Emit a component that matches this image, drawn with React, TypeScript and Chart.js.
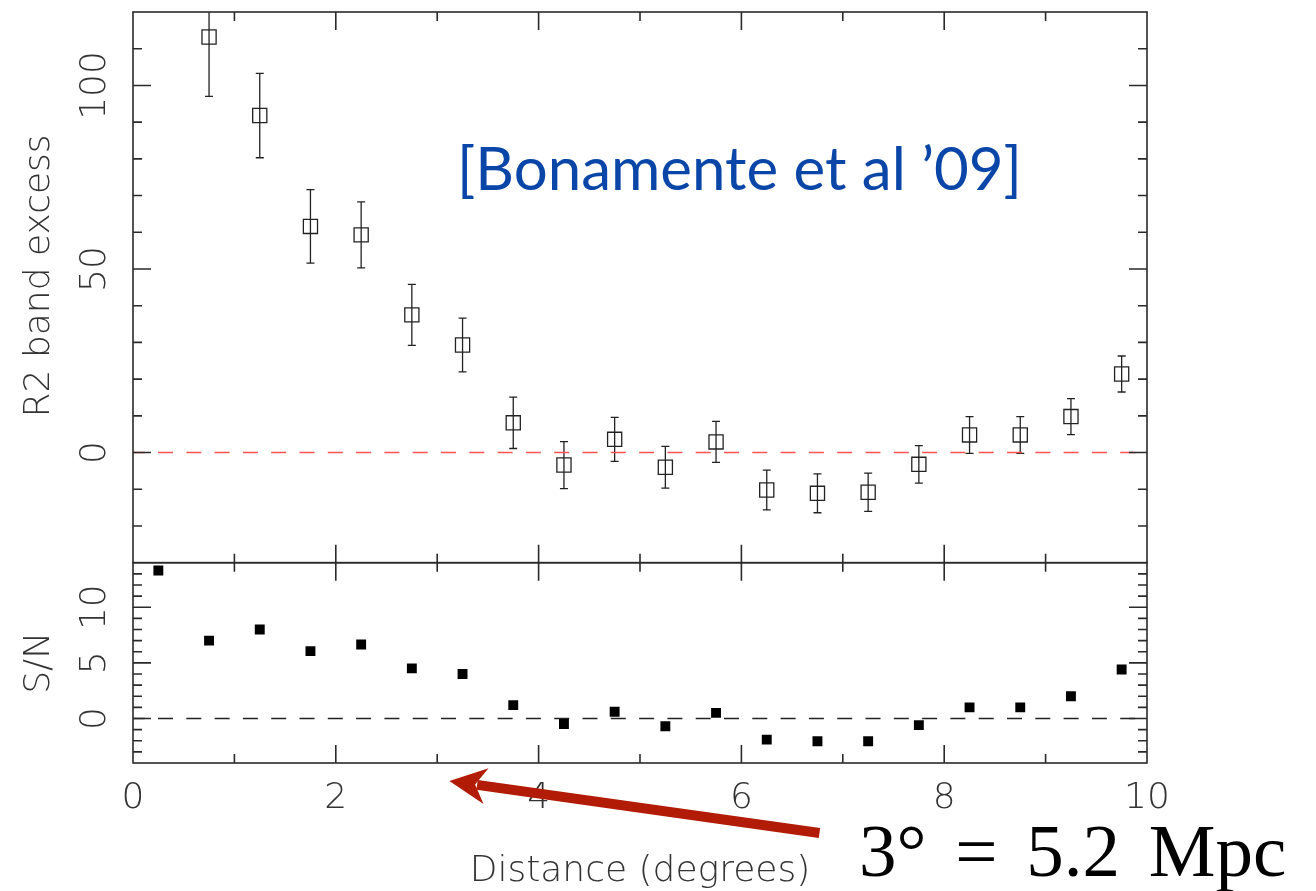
import React, { useEffect, useRef } from 'react';
import { Chart, registerables } from 'chart.js';

Chart.register(...registerables);

// ---------- data ----------
const distanceBins = [0.25, 0.75, 1.25, 1.75, 2.25, 2.75, 3.25, 3.75, 4.25, 4.75, 5.25, 5.75, 6.25, 6.75, 7.25, 7.75, 8.25, 8.75, 9.25, 9.75];
const r2Excess = [null, 113.2, 91.8, 61.6, 59.3, 37.5, 29.3, 8.1, -3.4, 3.6, -4.0, 2.9, -10.2, -11.1, -10.8, -3.2, 4.8, 4.8, 9.8, 21.4];
const r2Error = [null, 16.2, 11.5, 10.0, 9.0, 8.3, 7.3, 7.0, 6.4, 6.0, 5.7, 5.6, 5.4, 5.3, 5.2, 5.1, 5.0, 5.0, 4.9, 4.9];
const signalToNoise = [13.3, 7.0, 8.0, 6.05, 6.65, 4.5, 4.0, 1.2, -0.5, 0.6, -0.7, 0.5, -1.9, -2.05, -2.05, -0.6, 1.0, 1.0, 2.0, 4.4];
const xTickLabels = [0, 2, 4, 6, 8, 10];
const r2TickLabels = [0, 50, 100];
const snTickLabels = [0, 5, 10];

// ---------- layout ----------
const W = 1316;
const H = 891;
const PLOT_LEFT = 133;
const PLOT_RIGHT = 1147;
const TOP_TOP = 12;
const SPLIT = 562.7;
const PLOT_BOTTOM = 763;

const AXIS_COLOR = '#2a2a2a';
const TEXT_COLOR = '#333333';
const axisFont = { family: '"DejaVu Sans", "Liberation Sans", sans-serif', size: 36, weight: '200' as any };

function textWidth(text: string) {
  const c = document.createElement('canvas').getContext('2d')!;
  c.font = `${axisFont.weight} ${axisFont.size}px ${axisFont.family}`;
  return c.measureText(text).width;
}

function makeFramePlugin(yStep: number, yMajor: number) {
  return {
    id: 'frame',
    afterDatasetsDraw(chart: any) {
      const { ctx, chartArea: a, scales } = chart;
      const xs = scales.x;
      const ys = scales.y;
      ctx.save();
      ctx.strokeStyle = AXIS_COLOR;
      ctx.lineWidth = 1.6;
      ctx.strokeRect(a.left, a.top, a.right - a.left, a.bottom - a.top);
      ctx.beginPath();
      const nY = Math.round((ys.max - ys.min) / yStep);
      for (let i = 1; i < nY; i++) {
        const v = ys.min + i * yStep;
        const py = ys.getPixelForValue(v);
        const len = Math.abs(v % yMajor) < 1e-6 ? 18 : 9;
        ctx.moveTo(a.left, py);
        ctx.lineTo(a.left + len, py);
        ctx.moveTo(a.right, py);
        ctx.lineTo(a.right - len, py);
      }
      const nX = Math.round(xs.max - xs.min);
      for (let i = 1; i < nX; i++) {
        const v = xs.min + i;
        const px = xs.getPixelForValue(v);
        const len = v % 2 === 0 ? 18 : 9;
        ctx.moveTo(px, a.top);
        ctx.lineTo(px, a.top + len);
        ctx.moveTo(px, a.bottom);
        ctx.lineTo(px, a.bottom - len);
      }
      ctx.stroke();
      ctx.restore();
    },
  };
}

const errorBarPlugin = {
  id: 'errorBars',
  beforeDatasetsDraw(chart: any) {
    const { ctx, chartArea: a, scales } = chart;
    const xs = scales.x;
    const ys = scales.y;
    ctx.save();
    ctx.beginPath();
    ctx.rect(a.left, a.top, a.right - a.left, a.bottom - a.top);
    ctx.clip();
    ctx.strokeStyle = '#222';
    ctx.lineWidth = 1.3;
    ctx.beginPath();
    distanceBins.forEach((xv, i) => {
      const v = r2Excess[i];
      const e = r2Error[i];
      if (v == null || e == null) return;
      const px = xs.getPixelForValue(xv);
      const y1 = ys.getPixelForValue(v + e);
      const y2 = ys.getPixelForValue(v - e);
      ctx.moveTo(px, y1);
      ctx.lineTo(px, y2);
      ctx.moveTo(px - 4, y1);
      ctx.lineTo(px + 4, y1);
      ctx.moveTo(px - 4, y2);
      ctx.lineTo(px + 4, y2);
    });
    ctx.stroke();
    ctx.restore();
  },
};

const arrowPlugin = {
  id: 'arrow',
  afterDraw(chart: any) {
    const { ctx, chartArea: a, scales } = chart;
    const xs = scales.x;
    const tipX = xs.getPixelForValue(3.12);
    const tipY = a.bottom + 18;
    const tailX = xs.getPixelForValue(6.77);
    const tailY = a.bottom + 70;
    const dx = tipX - tailX;
    const dy = tipY - tailY;
    const len = Math.hypot(dx, dy);
    const ux = dx / len;
    const uy = dy / len;
    const nx = -uy;
    const ny = ux;
    const back = 37;
    const half = 18;
    const notch = 26;
    ctx.save();
    ctx.fillStyle = '#b21b05';
    ctx.strokeStyle = '#b21b05';
    ctx.lineWidth = 10;
    ctx.lineCap = 'butt';
    ctx.beginPath();
    ctx.moveTo(tailX, tailY);
    ctx.lineTo(tipX - ux * (notch + 2), tipY - uy * (notch + 2));
    ctx.stroke();
    ctx.beginPath();
    ctx.moveTo(tipX, tipY);
    ctx.lineTo(tipX - ux * back + nx * half, tipY - uy * back + ny * half);
    ctx.lineTo(tipX - ux * notch, tipY - uy * notch);
    ctx.lineTo(tipX - ux * back - nx * half, tipY - uy * back - ny * half);
    ctx.closePath();
    ctx.fill();
    ctx.restore();
  },
};

const noPadY = (s: any) => {
  s.width = PLOT_LEFT;
  s.paddingTop = 0;
  s.paddingBottom = 0;
};

export default function App() {
  const topRef = useRef<HTMLCanvasElement>(null);
  const bottomRef = useRef<HTMLCanvasElement>(null);

  useEffect(() => {
    const padTop = Math.max(0, PLOT_LEFT - 96 - textWidth('100') / 2);
    const padBottom = Math.max(0, PLOT_LEFT - 96 - textWidth('10') / 2);

    const topChart = new Chart(topRef.current!, {
      type: 'scatter',
      data: {
        datasets: [
          {
            data: distanceBins
              .map((x, i) => ({ x, y: r2Excess[i] }))
              .filter((p) => p.y !== null) as any,
            pointStyle: 'rect',
            pointRadius: 10,
            pointHoverRadius: 10,
            borderColor: '#222',
            borderWidth: 1.3,
            backgroundColor: 'rgba(0,0,0,0)',
          },
          {
            type: 'line',
            data: [
              { x: 0, y: 0 },
              { x: 10, y: 0 },
            ],
            borderColor: '#ff5252',
            borderWidth: 1.6,
            borderDash: [15, 13.3],
            borderDashOffset: 3.3,
            pointRadius: 0,
            fill: false,
          } as any,
        ],
      },
      options: {
        responsive: false,
        animation: false,
        events: [],
        layout: { autoPadding: false, padding: { left: 0, top: TOP_TOP, right: W - PLOT_RIGHT, bottom: H - SPLIT } },
        plugins: { legend: { display: false }, tooltip: { enabled: false } },
        scales: {
          x: { type: 'linear', min: 0, max: 10, display: false },
          y: {
            type: 'linear',
            min: -30,
            max: 120,
            afterFit: noPadY,
            grid: { display: false, drawTicks: false },
            border: { display: false },
            ticks: {
              stepSize: 10,
              autoSkip: false,
              minRotation: 90,
              maxRotation: 90,
              crossAlign: 'center',
              padding: padTop,
              font: axisFont,
              color: TEXT_COLOR,
              callback: (v: any) => (r2TickLabels.includes(Number(v)) ? String(v) : ''),
            },
            title: {
              display: true,
              text: '  R2 band excess',
              font: axisFont,
              color: TEXT_COLOR,
              padding: { top: 18, bottom: 0 },
            },
          },
        },
      },
      plugins: [errorBarPlugin, makeFramePlugin(10, 50)],
    } as any);

    const bottomChart = new Chart(bottomRef.current!, {
      type: 'scatter',
      data: {
        datasets: [
          {
            data: distanceBins.map((x, i) => ({ x, y: signalToNoise[i] })),
            pointStyle: 'rect',
            pointRadius: 7,
            pointHoverRadius: 7,
            borderWidth: 0,
            backgroundColor: '#000',
          },
          {
            type: 'line',
            data: [
              { x: 0, y: 0 },
              { x: 10, y: 0 },
            ],
            borderColor: '#222',
            borderWidth: 1.4,
            borderDash: [15, 13.3],
            borderDashOffset: 3.3,
            pointRadius: 0,
            fill: false,
          } as any,
        ],
      },
      options: {
        responsive: false,
        animation: false,
        events: [],
        layout: { autoPadding: false, padding: { left: 0, top: SPLIT, right: W - PLOT_RIGHT, bottom: 0 } },
        plugins: { legend: { display: false }, tooltip: { enabled: false } },
        scales: {
          x: {
            type: 'linear',
            min: 0,
            max: 10,
            position: 'bottom',
            afterFit: (s: any) => {
              s.height = H - PLOT_BOTTOM;
            },
            grid: { display: false, drawTicks: false },
            border: { display: false },
            ticks: {
              stepSize: 1,
              autoSkip: false,
              maxRotation: 0,
              minRotation: 0,
              padding: 14,
              font: axisFont,
              color: TEXT_COLOR,
              callback: (v: any) => (xTickLabels.includes(Number(v)) ? String(v) : ''),
            },
            title: {
              display: true,
              text: 'Distance (degrees)',
              font: axisFont,
              color: TEXT_COLOR,
              padding: { top: 0, bottom: -2 },
            },
          },
          y: {
            type: 'linear',
            min: -4,
            max: 14,
            afterFit: noPadY,
            grid: { display: false, drawTicks: false },
            border: { display: false },
            ticks: {
              stepSize: 1,
              autoSkip: false,
              minRotation: 90,
              maxRotation: 90,
              crossAlign: 'center',
              padding: padBottom,
              font: axisFont,
              color: TEXT_COLOR,
              callback: (v: any) => (snTickLabels.includes(Number(v)) ? String(v) : ''),
            },
            title: {
              display: true,
              text: 'S/N',
              font: axisFont,
              color: TEXT_COLOR,
              padding: { top: 18, bottom: 0 },
            },
          },
        },
      },
      plugins: [makeFramePlugin(1, 5), arrowPlugin],
    } as any);

    return () => {
      topChart.destroy();
      bottomChart.destroy();
    };
  }, []);

  return (
    <div
      style={{
        position: 'absolute',
        left: 0,
        top: 0,
        width: W,
        height: H,
        background: '#fff',
        overflow: 'hidden',
      }}
    >
      <canvas ref={topRef} width={W} height={H} style={{ position: 'absolute', left: 0, top: 0 }} />
      <canvas ref={bottomRef} width={W} height={H} style={{ position: 'absolute', left: 0, top: 0 }} />
      <div
        style={{
          position: 'absolute',
          left: 457,
          top: 137,
          fontFamily: 'Lato, "Open Sans", sans-serif',
          fontSize: 60,
          lineHeight: '60px',
          color: '#0a46a8',
          whiteSpace: 'nowrap',
        }}
      >
        [Bonamente et al ’09]
      </div>
      <div
        style={{
          position: 'absolute',
          left: 859,
          top: 813,
          fontFamily: '"Liberation Serif", "DejaVu Serif", serif',
          fontSize: 75,
          lineHeight: '75px',
          wordSpacing: 10,
          color: '#000',
          whiteSpace: 'pre',
        }}
      >
        3° = 5.2 Mpc
      </div>
    </div>
  );
}
